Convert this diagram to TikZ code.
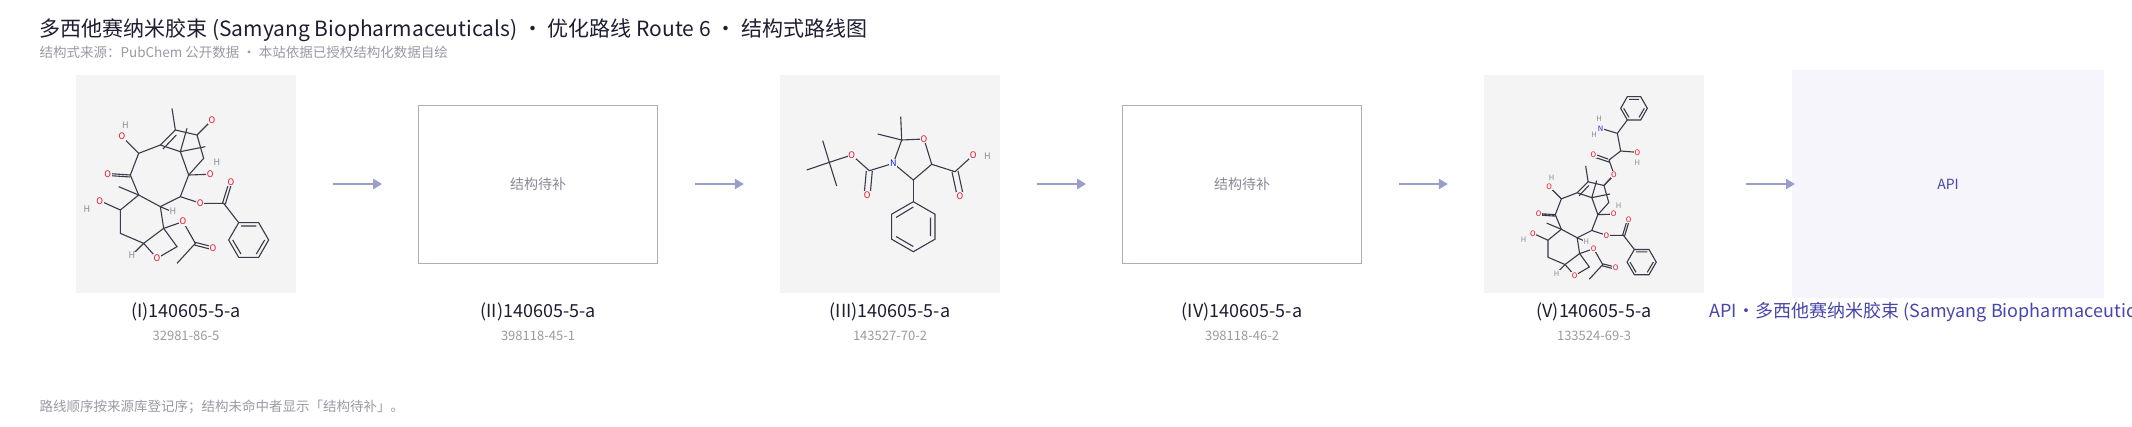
\documentclass[tikz,border=0pt]{standalone}
\usepackage{fontspec}
\setmainfont{Noto Sans CJK SC}
\usetikzlibrary{arrows.meta}
\begin{document}
\definecolor{boxg}{HTML}{F4F4F4}
\definecolor{bondc}{HTML}{3A3A48}
\definecolor{ored}{HTML}{E8102A}
\definecolor{nblue}{HTML}{1020E0}
\definecolor{hgray}{HTML}{8A8A96}
\definecolor{arrowc}{HTML}{9C9CC8}
\definecolor{apibg}{HTML}{F5F5FB}
\definecolor{apitxt}{HTML}{4646AA}
\definecolor{titlec}{HTML}{1E1E32}
\definecolor{subc}{HTML}{9A9AA4}
\def\atomfont{\fontsize{9}{9}\selectfont}
\tikzset{
 bond/.style={draw=bondc,line width=1.1pt},
 atm/.style={fill=boxg,inner sep=0.6pt,font=\atomfont},
 atO/.style={atm,text=ored},
 atN/.style={atm,text=nblue},
 atH/.style={atm,text=hgray},
 link/.style={draw=arrowc,line width=2.4pt,-{Triangle[length=9pt,width=10pt]}},
 lbl/.style={font=\fontsize{18}{18}\selectfont,text=titlec},
 cas/.style={font=\fontsize{13}{13}\selectfont,text=subc},
 empty/.style={draw=hgray!70,line width=1pt,fill=white,minimum width=239pt,minimum height=158pt,font=\fontsize{14}{14}\selectfont,text=hgray},
 graybox/.style={fill=boxg,minimum width=220pt,minimum height=218pt,inner sep=0pt}
}
\newcommand\taxcore{%
 \draw[bond] (185,235)--(250,210)--(295,165)--(360,180)--(380,250)--(335,300)--(310,365)--(250,395)--(185,360)--(160,300)--(185,235);
 \draw[bond] (258,222)--(298,180);
 \draw[bond] (250,210)--(310,230)--(335,300) (295,165)--(285,100) (310,230)--(330,160) (310,230)--(385,215);
 \draw[bond] (185,235)--(140,190) (160,300)--(100,296) (160,306)--(100,302) (185,360)--(125,335);
 \draw[bond] (360,180)--(400,140) (335,300)--(395,298) (310,365)--(365,383) (250,395)--(280,408);
 \draw[bond] (185,360)--(130,405)--(130,475)--(200,505)--(260,460)--(250,395);
 \draw[bond] (130,405)--(75,380) (200,505)--(240,550)--(300,515)--(260,460) (200,505)--(170,535);
 \draw[bond] (260,460)--(318,440)--(355,505)--(300,565) (355,502)--(405,515) (352,510)--(402,523);
 \draw[bond] (370,385)--(440,385)--(485,443) (437,383)--(455,325) (445,387)--(463,328);
 \draw[bond] (575,495)--(545,547)--(485,547)--(455,495)--(485,443)--(545,443)--cycle;
 \draw[bond] (563,495)--(538,537) (492,537)--(467,495) (492,453)--(538,453);
 \node[atO] at (135,185) {O}; \node[atH] at (145,150) {H};
 \node[atO] at (92,298) {O};
 \node[atO] at (405,135) {O};
 \node[atO] at (400,298) {O}; \node[atH] at (420,262) {H};
 \node[atO] at (370,385) {O}; \node[atH] at (288,410) {H};
 \node[atO] at (68,378) {O}; \node[atH] at (30,402) {H};
 \node[atO] at (240,550) {O}; \node[atH] at (165,542) {H};
 \node[atO] at (318,440) {O}; \node[atO] at (408,520) {O};
 \node[atO] at (462,322) {O};
}
\begin{tikzpicture}[x=1pt,y=-1pt]
\clip (0,0) rectangle (2132,426);
\fill[white] (0,0) rectangle (2132,426);
\node[anchor=west,font=\fontsize{21}{21}\selectfont,text=titlec] (title) at (36,30) {多西他赛纳米胶束 (Samyang Biopharmaceuticals) · 优化路线 Route 6 · 结构式路线图};
\node[anchor=west,font=\fontsize{13.5}{13.5}\selectfont,text=subc] (sub) at (36,52) {结构式来源：PubChem 公开数据 · 本站依据已授权结构化数据自绘};
% boxes
\node[graybox] (b1) at (186,184) {};
\node[empty] (b2) at (538,184) {结构待补};
\node[graybox] (b3) at (890,184) {};
\node[empty] (b4) at (1242,184) {结构待补};
\node[graybox] (b5) at (1594,184) {};
\node[fill=apibg,minimum width=312pt,minimum height=228pt,font=\fontsize{14}{14}\selectfont,text=apitxt] (b6) at (1948,184) {API};
% structure I
\begin{scope}[shift={(77,75)},scale=1/3]
\taxcore
\end{scope}
% structure III
\begin{scope}
\draw[bond] (829.3,162.3)--(822.7,140.7) (829.3,162.3)--(806.7,170) (829.3,162.3)--(836.7,186) (829.3,162.3)--(851.7,155)--(869.3,170.7)--(893.3,163.3)--(901.7,140)--(924,139)--(931.7,164.3)--(913.3,180)--(893.3,163.3);
\draw[bond] (866.3,171)--(864.3,193) (872.3,171)--(870.3,193);
\draw[bond] (901.7,140)--(900.7,116.7) (901.7,140)--(877.7,134);
\draw[bond] (931.7,164.3)--(955,171.7)--(973.3,155) (952,172)--(957,195) (958,171)--(963,194);
\draw[bond] (913.3,180)--(913.3,201.7);
\draw[bond] (913.3,201.7)--(935,214.2)--(935,239.2)--(913.3,251.7)--(891.6,239.2)--(891.6,214.2)--cycle;
\draw[bond] (930.5,217.5)--(930.5,236) (913.3,246.5)--(896,236.5) (896,217.5)--(913.3,207);
\node[atO] at (851.7,155) {O}; \node[atO] at (867.3,195) {O}; \node[atN] at (893.3,163.3) {N};
\node[atO] at (924,139) {O}; \node[atO] at (960,196) {O}; \node[atO] at (973.3,155) {O}; \node[atH] at (987.3,156) {H};
\end{scope}
% structure V
\begin{scope}[shift={(1484,75)},scale=1/3]
\def\atomfont{\fontsize{7.5}{7.5}\selectfont}
\begin{scope}[shift={(97,200)},scale=.73]
\taxcore
\end{scope}
\draw[bond] (360,331)--(390,298)--(375,255)--(410,228)--(400,175)--(350,160) (410,228)--(460,232) (400,175)--(430,135);
\draw[bond] (372,252)--(330,237) (378,262)--(332,247);
\draw[bond] (430,135)--(470,135)--(490,100)--(470,65)--(430,65)--(410,100)--cycle (465,127)--(481,100) (435,73)--(465,73) (419,100)--(435,127);
\node[atO] at (390,298) {O}; \node[atO] at (328,240) {O}; \node[atO] at (460,232) {O}; \node[atH] at (460,262) {H};
\node[atN] at (350,160) {N}; \node[atH] at (345,130) {H}; \node[atH] at (330,180) {H};
\end{scope}
% arrows
\path (b1.east)--(b2.west) coordinate[pos=.5] (m1);
\path (b2.east)--(b3.west) coordinate[pos=.5] (m2);
\path (b3.east)--(b4.west) coordinate[pos=.5] (m3);
\path (b4.east)--(b5.west) coordinate[pos=.5] (m4);
\coordinate (m5) at (1770,184);
\foreach \i in {1,...,5}{\draw[link] ([xshift=-24pt]m\i) -- ([xshift=25pt]m\i);}
% labels
\node[lbl] (l1) at (186,312) {(I)140605-5-a}; \node[cas] at (186,336) {32981-86-5};
\node[lbl] (l2) at (538,312) {(II)140605-5-a}; \node[cas] at (538,336) {398118-45-1};
\node[lbl] (l3) at (890,312) {(III)140605-5-a}; \node[cas] at (890,336) {143527-70-2};
\node[lbl] (l4) at (1242,312) {(IV)140605-5-a}; \node[cas] at (1242,336) {398118-46-2};
\node[lbl] (l5) at (1594,312) {(V)140605-5-a}; \node[cas] at (1594,336) {133524-69-3};
\node[lbl,text=apitxt,anchor=west] (l6) at (1706,312) {API·多西他赛纳米胶束 (Samyang Biopharmaceuticals)};
\node[anchor=west,font=\fontsize{13.5}{13.5}\selectfont,text=subc] (foot) at (36,407) {路线顺序按来源库登记序；结构未命中者显示「结构待补」。};
\end{tikzpicture}
\end{document}
